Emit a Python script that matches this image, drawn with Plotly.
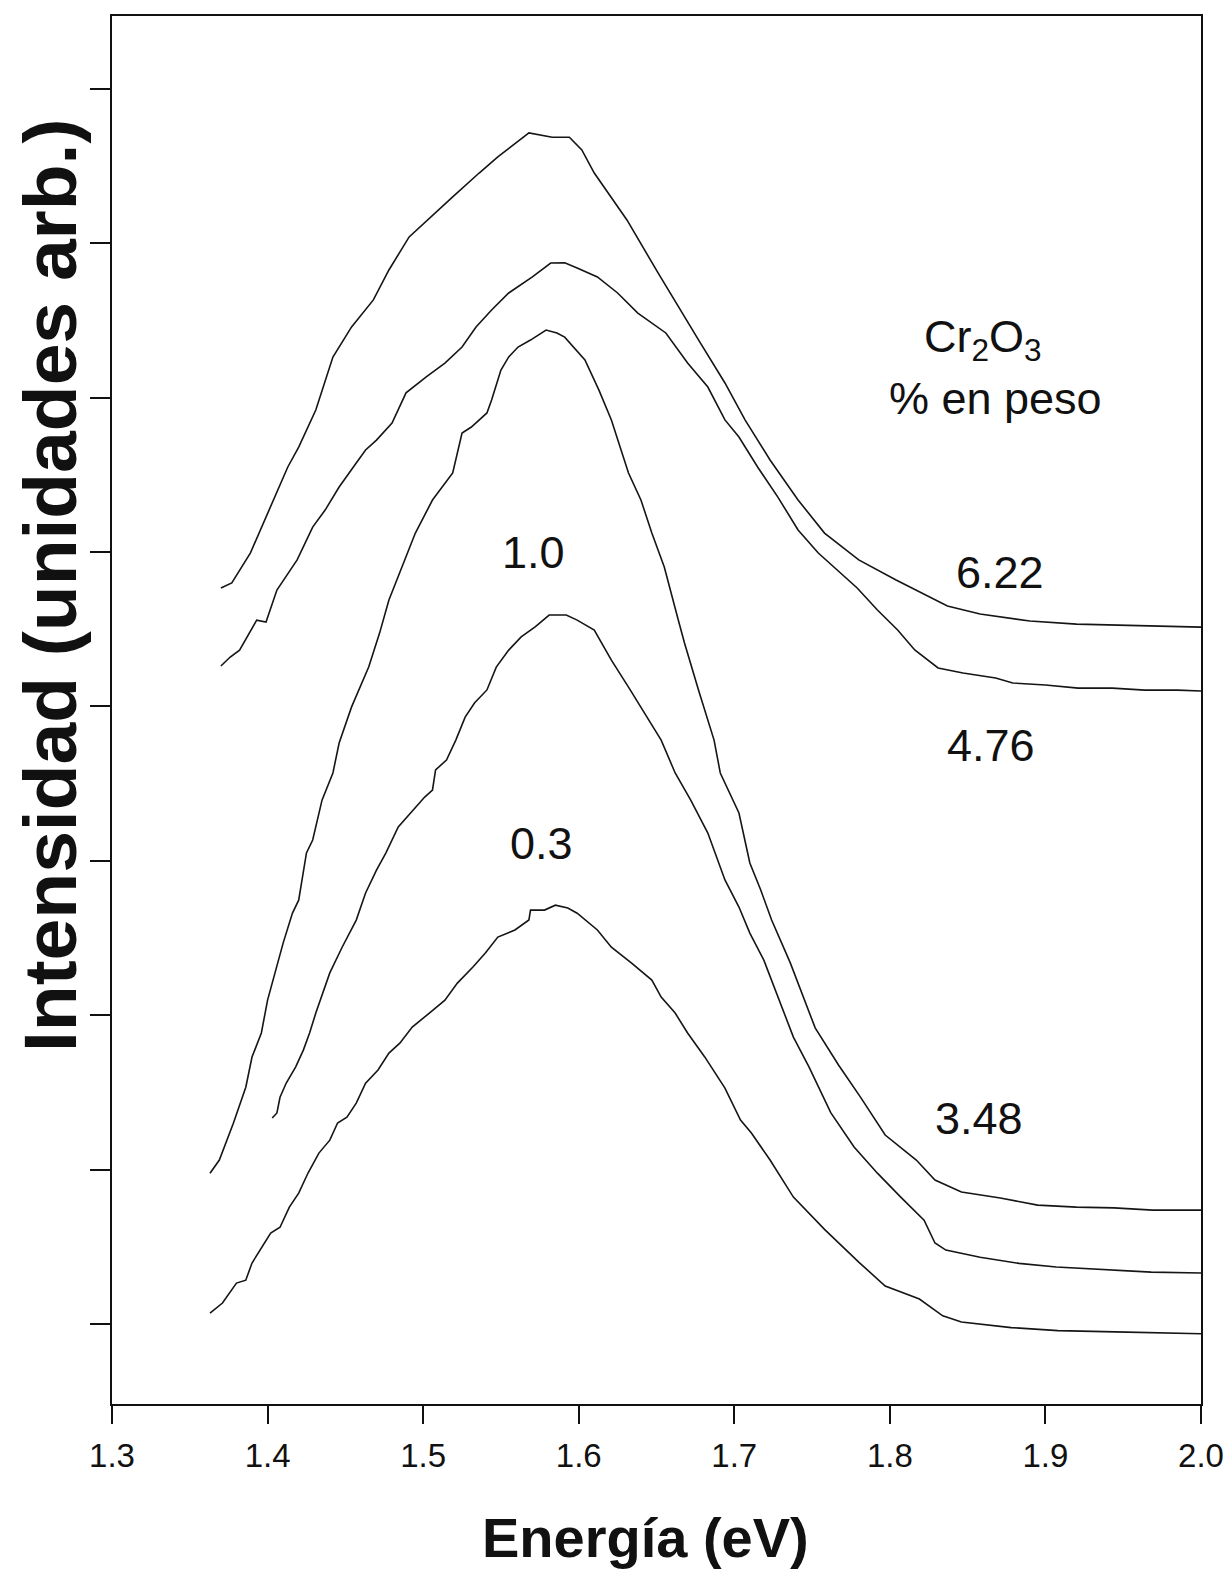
import plotly.graph_objects as go

# ---------------- data ----------------
# Energy (eV) and intensity (arb. units, one unit = one y tick) per Cr2O3 content (% en peso)
e_622 = [1.370,1.377,1.389,1.400,1.413,1.420,1.431,1.442,1.454,1.468,1.478,1.491,1.506,1.519,1.536,1.548,1.568,1.583,1.594,1.602,
         1.610,1.631,1.651,1.664,1.677,1.694,1.707,1.723,1.741,1.758,1.780,1.804,1.837,1.858,1.890,1.920,1.944,1.971,2.000]
i_622 = [4.767,4.800,4.995,5.254,5.551,5.680,5.920,6.263,6.458,6.633,6.827,7.041,7.183,7.300,7.455,7.559,7.715,7.687,7.687,7.605,
         7.455,7.151,6.808,6.587,6.374,6.095,5.855,5.596,5.337,5.123,4.949,4.819,4.651,4.599,4.553,4.533,4.527,4.521,4.514]

e_476 = [1.370,1.376,1.382,1.393,1.399,1.406,1.419,1.429,1.437,1.446,1.457,1.463,1.470,1.480,1.489,1.502,1.514,1.525,1.534,1.544,
         1.555,1.570,1.582,1.591,1.599,1.612,1.625,1.638,1.656,1.670,1.683,1.694,1.703,1.715,1.728,1.741,1.754,1.766,1.779,1.792,
         1.805,1.816,1.831,1.847,1.868,1.879,1.900,1.921,1.943,1.964,1.985,2.000]
i_476 = [4.262,4.320,4.365,4.559,4.547,4.754,4.949,5.162,5.272,5.421,5.577,5.661,5.725,5.836,6.031,6.135,6.224,6.328,6.458,6.568,
         6.678,6.781,6.872,6.873,6.840,6.782,6.678,6.548,6.419,6.224,6.069,5.856,5.745,5.551,5.356,5.143,4.994,4.884,4.767,4.625,
         4.495,4.366,4.249,4.217,4.184,4.152,4.139,4.119,4.119,4.106,4.106,4.100]

e_348 = [1.363,1.369,1.378,1.386,1.390,1.396,1.400,1.410,1.416,1.420,1.425,1.429,1.435,1.442,1.446,1.454,1.465,1.472,1.478,1.485,
         1.495,1.506,1.519,1.525,1.531,1.541,1.544,1.550,1.555,1.561,1.569,1.579,1.586,1.591,1.598,1.604,1.613,1.621,1.632,1.640,
         1.647,1.655,1.664,1.668,1.677,1.687,1.691,1.703,1.710,1.717,1.724,1.736,1.752,1.767,1.781,1.791,1.797,1.817,1.829,1.846,
         1.871,1.895,1.920,1.944,1.969,2.000]
i_348 = [0.977,1.062,1.301,1.534,1.729,1.885,2.098,2.467,2.662,2.745,3.051,3.135,3.393,3.569,3.763,3.997,4.255,4.475,4.689,4.864,
         5.123,5.337,5.512,5.771,5.810,5.901,5.985,6.179,6.264,6.328,6.373,6.438,6.419,6.392,6.309,6.244,6.049,5.855,5.512,5.337,
         5.123,4.903,4.560,4.411,4.106,3.782,3.569,3.310,2.986,2.811,2.617,2.339,1.918,1.678,1.471,1.321,1.224,1.062,0.933,0.855,
         0.816,0.770,0.757,0.752,0.738,0.738]

e_10 = [1.403,1.406,1.408,1.412,1.418,1.423,1.427,1.431,1.440,1.448,1.457,1.463,1.470,1.476,1.484,1.492,1.501,1.506,1.508,1.515,
        1.521,1.527,1.533,1.541,1.547,1.555,1.563,1.572,1.581,1.592,1.599,1.610,1.621,1.632,1.640,1.653,1.662,1.672,1.683,1.694,
        1.703,1.710,1.719,1.728,1.738,1.748,1.762,1.777,1.792,1.807,1.822,1.829,1.836,1.858,1.883,1.907,1.944,1.968,2.000]
i_10 = [1.334,1.367,1.469,1.561,1.664,1.774,1.885,2.014,2.274,2.442,2.616,2.792,2.940,3.050,3.219,3.309,3.413,3.459,3.589,3.653,
        3.782,3.931,4.022,4.107,4.255,4.365,4.450,4.515,4.592,4.592,4.559,4.495,4.300,4.125,3.997,3.782,3.569,3.394,3.180,2.876,
        2.701,2.532,2.357,2.117,1.858,1.665,1.369,1.147,0.977,0.822,0.673,0.525,0.479,0.433,0.393,0.369,0.350,0.336,0.330]

e_03 = [1.363,1.368,1.371,1.380,1.386,1.390,1.394,1.402,1.408,1.414,1.420,1.426,1.433,1.440,1.445,1.451,1.457,1.463,1.471,1.478,
        1.485,1.493,1.504,1.514,1.522,1.532,1.540,1.548,1.559,1.568,1.569,1.578,1.585,1.593,1.599,1.612,1.621,1.634,1.647,1.653,
        1.662,1.670,1.681,1.694,1.704,1.711,1.723,1.738,1.758,1.780,1.797,1.819,1.834,1.846,1.878,1.908,1.945,1.969,2.000]
i_03 = [0.070,0.110,0.136,0.265,0.284,0.395,0.459,0.589,0.627,0.757,0.848,0.978,1.107,1.191,1.302,1.340,1.431,1.560,1.645,1.755,
        1.819,1.923,2.014,2.098,2.208,2.312,2.403,2.506,2.552,2.617,2.681,2.681,2.713,2.694,2.661,2.552,2.441,2.338,2.228,2.118,
        2.014,1.885,1.730,1.528,1.321,1.237,1.062,0.822,0.613,0.401,0.246,0.162,0.053,0.013,-0.023,-0.043,-0.051,-0.056,-0.063]

x_ticks = [1.3, 1.4, 1.5, 1.6, 1.7, 1.8, 1.9, 2.0]
x_tick_labels = ["1.3", "1.4", "1.5", "1.6", "1.7", "1.8", "1.9", "2.0"]
y_ticks = [0, 1, 2, 3, 4, 5, 6, 7, 8]

# curve labels
label_text = ["6.22", "4.76", "1.0", "0.3", "3.48"]
label_e = [1.871, 1.865, 1.571, 1.576, 1.857]
label_i = [4.870, 3.750, 4.994, 3.115, 1.328]

# ---------------- figure ----------------
FONT = "Liberation Sans, Arial, Helvetica, sans-serif"
series = [(e_622, i_622), (e_476, i_476), (e_348, i_348), (e_10, i_10), (e_03, i_03)]

fig = go.Figure()
for ex, iy in series:
    fig.add_trace(go.Scatter(x=ex, y=iy, mode="lines",
                             line=dict(color="#151515", width=1.6),
                             showlegend=False, hoverinfo="skip"))

for t, ex, iy in zip(label_text, label_e, label_i):
    fig.add_annotation(x=ex, y=iy, text=t, showarrow=False,
                       font=dict(family=FONT, size=45, color="#111"),
                       xanchor="center", yanchor="middle")

fig.add_annotation(x=1.860, y=6.375, text="Cr<sub>2</sub>O<sub>3</sub>", showarrow=False,
                   font=dict(family=FONT, size=45, color="#111"),
                   xanchor="center", yanchor="middle")
fig.add_annotation(x=1.868, y=5.994, text="% en peso", showarrow=False,
                   font=dict(family=FONT, size=45, color="#111"),
                   xanchor="center", yanchor="middle")

# axis titles
fig.add_annotation(xref="paper", yref="paper", x=0.490, y=-0.096,
                   text="<b>Energía (eV)</b>", showarrow=False,
                   font=dict(family=FONT, size=56, color="#111"),
                   xanchor="center", yanchor="middle")
fig.add_annotation(xref="paper", yref="paper", x=-0.057, y=0.590,
                   text="<b>Intensidad (unidades arb.)</b>", showarrow=False, textangle=-90,
                   font=dict(family=FONT, size=75, color="#111"),
                   xanchor="center", yanchor="middle")

# the page adds an 8 px body margin on each side, so the figure is 16 px smaller
# than the window (no scrollbars)
fig.update_layout(
    width=1216, height=1562,
    margin=dict(l=104, r=23, t=8, b=166),
    paper_bgcolor="white", plot_bgcolor="white",
    font=dict(family=FONT, color="#111"),
)
fig.update_xaxes(range=[1.3, 2.0], tickvals=x_ticks, ticktext=x_tick_labels,
                 ticks="outside", ticklen=18, tickwidth=1.5, tickcolor="#111",
                 tickfont=dict(family=FONT, size=33, color="#111"),
                 showline=True, linewidth=2, linecolor="#111", mirror=True,
                 showgrid=False, zeroline=False, ticklabelstandoff=3,
                 ticklabeloverflow="allow", automargin=False)
fig.update_yaxes(range=[-0.518, 8.472], tickvals=y_ticks, showticklabels=False,
                 ticks="outside", ticklen=20, tickwidth=1.5, tickcolor="#111",
                 showline=True, linewidth=2, linecolor="#111", mirror=True,
                 showgrid=False, zeroline=False, automargin=False)

fig.write_html("out.html")
